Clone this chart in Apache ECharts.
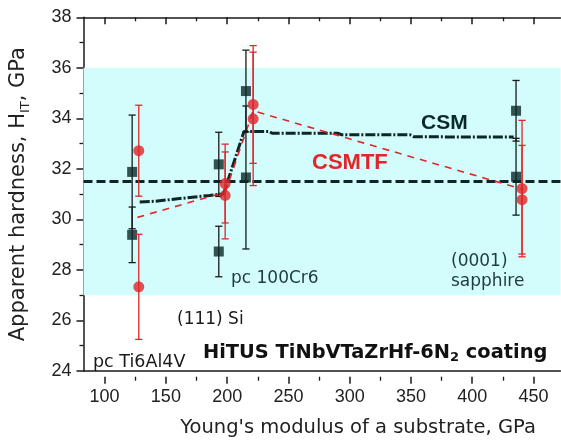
<!DOCTYPE html>
<html>
<head>
<meta charset="utf-8">
<script src="https://cdn.jsdelivr.net/npm/echarts@6/dist/echarts.min.js"></script>
<style>
html,body{margin:0;padding:0;background:#fff;}
#chart{width:561px;height:443px;}
</style>
</head>
<body>
<div id="chart"></div>
<script>
// ---- data ----
const xTickLabels = [100, 150, 200, 250, 300, 350, 400, 450];
const yTickLabels = [24, 26, 28, 30, 32, 34, 36, 38];
const bandLow = 27;
const bandHigh = 36;
const meanValue = 31.5;
const meanLineX = [75, 472];
// CSM (black squares): [x, y], errors
const csmX = [115.5, 115.5, 187.6, 187.6, 210.2, 210.2, 435, 435];
const csmY = [31.88, 29.39, 32.18, 28.73, 35.08, 31.66, 34.3, 31.69];
const csmErr = [2.25, 1.1, 1.27, 1.0, 1.62, 2.83, 1.2, 1.52];
// CSMTF (red circles)
const csmtfX = [121, 121, 192.9, 192.9, 216.2, 216.2, 440, 440];
const csmtfY = [32.72, 27.33, 31.42, 30.95, 34.55, 33.98, 31.22, 30.78];
const csmtfErr = [1.8, 2.08, 1.56, 1.72, 2.33, 2.64, 2.7, 2.15];
// CSM curve (dash-dot)
const csmCurveX = [121.8, 135, 150, 165.8, 180, 191.5, 208.6, 229.7, 232, 287, 290, 346.7, 350, 433];
const csmCurveY = [30.69, 30.72, 30.8, 30.88, 30.95, 31.01, 33.48, 33.48, 33.41, 33.41, 33.35, 33.35, 33.27, 33.26];
// CSMTF trend (dashed red)
const csmtfLineX = [119.9, 193, 216.2, 440];
const csmtfLineY = [30.08, 31.08, 34.3, 31.2];

const zip = (a, b) => a.map((v, i) => [v, b[i]]);
const dark = '#0e2626';
const red = '#e0262a';
const axisColor = '#1a1a1a';

function errSeries(xs, ys, errs, color, z) {
  return {
    type: 'custom', xAxisIndex: 0, yAxisIndex: 0, z: z,
    data: xs.map((x, i) => [x, ys[i] - errs[i], ys[i] + errs[i]]),
    renderItem: function (params, api) {
      const lo = api.coord([api.value(0), api.value(1)]);
      const hi = api.coord([api.value(0), api.value(2)]);
      const hw = 3.6;
      const st = { stroke: color, lineWidth: 1.3 };
      return {
        type: 'group',
        children: [
          { type: 'line', shape: { x1: lo[0], y1: lo[1], x2: hi[0], y2: hi[1] }, style: st },
          { type: 'line', shape: { x1: lo[0] - hw, y1: lo[1], x2: lo[0] + hw, y2: lo[1] }, style: st },
          { type: 'line', shape: { x1: hi[0] - hw, y1: hi[1], x2: hi[0] + hw, y2: hi[1] }, style: st }
        ]
      };
    },
    silent: true
  };
}

const chart = echarts.init(document.getElementById('chart'), null, { renderer: 'canvas' });
const fontFam = 'Liberation Sans, Arial, sans-serif';
const wideFam = 'DejaVu Sans, sans-serif';

const option = {
  animation: false,
  backgroundColor: '#ffffff',
  textStyle: { fontFamily: fontFam },
  grid: [
    { left: 74, right: 0.5, top: 17.3, bottom: 66.3, containLabel: false },
    { left: 104.6, right: 27.5, top: 17.3, bottom: 66.3, containLabel: false }
  ],
  xAxis: [
    {
      gridIndex: 0, type: 'value', position: 'bottom', min: 75, max: 472,
      axisLine: { show: true, lineStyle: { color: axisColor, width: 1.5 } },
      axisTick: { show: false }, axisLabel: { show: false }, splitLine: { show: false },
      name: "Young's modulus of a substrate, GPa", nameLocation: 'middle', nameGap: 47,
      nameTextStyle: { fontSize: 19.5, color: '#222', fontFamily: wideFam, padding: [0, 0, 0, 72] }
    },
    {
      gridIndex: 0, type: 'value', position: 'top', min: 75, max: 472,
      axisLine: { show: true, lineStyle: { color: axisColor, width: 1.5 } },
      axisTick: { show: false }, axisLabel: { show: false }, splitLine: { show: false }
    },
    {
      gridIndex: 1, type: 'value', position: 'bottom', min: xTickLabels[0], max: xTickLabels[xTickLabels.length - 1], interval: 50,
      axisLine: { show: false },
      axisTick: { show: true, length: 7, lineStyle: { color: axisColor, width: 1.5 } },
      minorTick: { show: true, splitNumber: 2, length: 4, lineStyle: { color: axisColor, width: 1.3 } },
      axisLabel: { show: true, fontSize: 18, color: '#222', margin: 11, fontFamily: fontFam },
      splitLine: { show: false }, minorSplitLine: { show: false }
    },
    {
      gridIndex: 1, type: 'value', position: 'top', min: xTickLabels[0], max: xTickLabels[xTickLabels.length - 1], interval: 50,
      axisLine: { show: false },
      axisTick: { show: true, inside: true, length: 7, lineStyle: { color: axisColor, width: 1.5 } },
      minorTick: { show: true, splitNumber: 2, length: 4, lineStyle: { color: axisColor, width: 1.3 } },
      axisLabel: { show: false }, splitLine: { show: false }
    }
  ],
  yAxis: [
    {
      gridIndex: 0, type: 'value', min: yTickLabels[0], max: yTickLabels[yTickLabels.length - 1], interval: 2,
      axisLine: { show: true, lineStyle: { color: axisColor, width: 1.5 } },
      axisTick: { show: true, length: 7, lineStyle: { color: axisColor, width: 1.5 } },
      minorTick: { show: true, splitNumber: 2, length: 4, lineStyle: { color: axisColor, width: 1.3 } },
      axisLabel: { show: true, fontSize: 18, color: '#222', margin: 12, fontFamily: fontFam },
      splitLine: { show: false },
      name: '{a|Apparent hardness, H}{s|IT}{a|, GPa}',
      nameLocation: 'middle', nameRotate: 90, nameGap: 51,
      nameTextStyle: {
        color: '#222',
        rich: {
          a: { fontSize: 21, lineHeight: 28, color: '#222', fontFamily: wideFam },
          s: { fontSize: 13, color: '#222', verticalAlign: 'bottom', fontFamily: wideFam }
        }
      }
    },
    {
      gridIndex: 1, type: 'value', min: 24, max: 38, show: false
    }
  ],
  series: [
    {
      name: 'band', type: 'line', xAxisIndex: 0, yAxisIndex: 0, z: 0,
      data: zip(meanLineX, [meanValue, meanValue]), symbol: 'none',
      lineStyle: { opacity: 0 }, silent: true,
      markArea: {
        silent: true,
        itemStyle: { color: '#d3fcfc', opacity: 1 },
        data: [[{ yAxis: bandLow }, { yAxis: bandHigh }]]
      }
    },
    {
      name: 'mean', type: 'line', xAxisIndex: 0, yAxisIndex: 0, z: 3,
      data: zip(meanLineX, [meanValue, meanValue]), symbol: 'none',
      lineStyle: { color: dark, width: 3, type: [9, 4] }
    },
    {
      name: 'CSM curve', type: 'line', xAxisIndex: 0, yAxisIndex: 0, z: 3,
      data: zip(csmCurveX, csmCurveY), symbol: 'none',
      lineStyle: { color: dark, width: 3, type: [10, 2, 2, 2] }
    },
    {
      name: 'CSMTF line', type: 'line', xAxisIndex: 0, yAxisIndex: 0, z: 3,
      data: zip(csmtfLineX, csmtfLineY), symbol: 'none',
      lineStyle: { color: red, width: 1.6, type: [7, 6] }
    },
    errSeries(csmX, csmY, csmErr, '#1a1a1a', 4),
    {
      name: 'CSM', type: 'scatter', xAxisIndex: 0, yAxisIndex: 0, z: 5,
      data: zip(csmX, csmY), symbol: 'rect', symbolSize: 10,
      itemStyle: { color: '#0b2828' }
    },
    errSeries(csmtfX, csmtfY, csmtfErr, red, 6),
    {
      name: 'CSMTF', type: 'scatter', xAxisIndex: 0, yAxisIndex: 0, z: 7,
      data: zip(csmtfX, csmtfY), symbol: 'circle', symbolSize: 11,
      itemStyle: { color: red }
    }
  ],
  graphic: [
    { type: 'text', left: 421, top: 113, z: 20, style: { text: 'CSM', fontSize: 21, fontWeight: 'bold', fill: '#0b2828', fontFamily: fontFam } },
    { type: 'text', left: 312, top: 152, z: 20, style: { text: 'CSMTF', fontSize: 22, fontWeight: 'bold', fill: red, fontFamily: fontFam } },
    { type: 'text', left: 93, top: 353, z: 20, style: { text: 'pc Ti6Al4V', fontSize: 17.5, fill: '#1a1a1a', fontFamily: wideFam } },
    { type: 'text', left: 177, top: 311.5, z: 20, style: { text: '(111) Si', fontSize: 17, fill: '#1a1a1a', fontFamily: wideFam } },
    { type: 'text', left: 231, top: 270, z: 20, style: { text: 'pc 100Cr6', fontSize: 17, fill: '#1f3b3b', fontFamily: wideFam } },
    { type: 'text', left: 451, top: 253, z: 20, style: { text: '(0001)', fontSize: 17, fill: '#1f3b3b', fontFamily: wideFam } },
    { type: 'text', left: 451, top: 273, z: 20, style: { text: 'sapphire', fontSize: 17, fill: '#1f3b3b', fontFamily: wideFam } },
    {
      type: 'text', left: 203, top: 343, z: 20,
      style: {
        text: '{b|HiTUS TiNbVTaZrHf-6N}{s|2}{b| coating}',
        fontFamily: wideFam,
        rich: {
          b: { fontSize: 19.4, fontWeight: 'bold', fill: '#111', color: '#111', lineHeight: 24, fontFamily: wideFam },
          s: { fontSize: 13, fontWeight: 'bold', fill: '#111', color: '#111', verticalAlign: 'bottom', fontFamily: wideFam }
        }
      }
    }
  ]
};
chart.setOption(option);
</script>
</body>
</html>
